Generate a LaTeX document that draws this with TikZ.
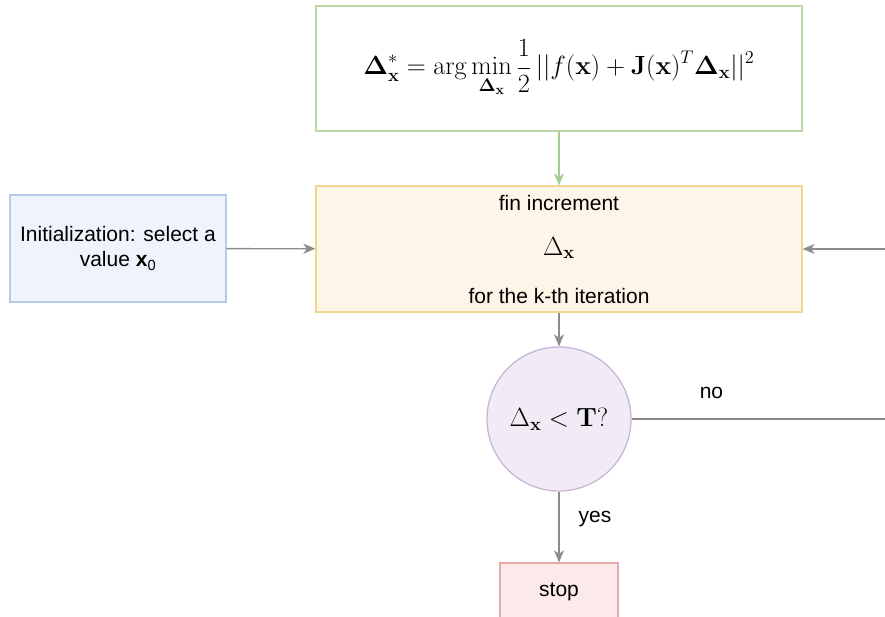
\documentclass[tikz,border=0pt]{standalone}
\usepackage{amsmath,bm,graphicx}
\usepackage[no-math]{fontspec}
\setmainfont{Liberation Sans}
\usetikzlibrary{arrows.meta}

\definecolor{eqstroke}{RGB}{185,215,168}
\definecolor{incfill}{RGB}{255,244,232}
\definecolor{incstroke}{RGB}{240,214,145}
\definecolor{initfill}{RGB}{238,243,252}
\definecolor{initstroke}{RGB}{182,201,230}
\definecolor{testfill}{RGB}{241,235,245}
\definecolor{teststroke}{RGB}{200,182,216}
\definecolor{stopfill}{RGB}{252,233,233}
\definecolor{stopstroke}{RGB}{232,170,168}
\definecolor{linkgray}{RGB}{140,140,140}
\definecolor{linkgreen}{RGB}{165,205,145}

% math drawn a little larger than the surrounding text
\newcommand{\bigmath}[1]{\scalebox{1.27}{$\displaystyle #1$}}

\tikzset{
  txt/.style={font=\fontsize{21}{25}\selectfont},
  box/.style={txt, rectangle, line width=1.3pt, inner sep=0pt, align=center},
  link/.style={line width=1.3pt, draw=linkgray},
  arr/.style={link, -{Stealth[length=12pt,width=10pt,inset=3.5pt]}},
  garr/.style={line width=1.3pt, draw=linkgreen, -{Stealth[length=12pt,width=10pt,inset=3.5pt]}},
}

\begin{document}
\begin{tikzpicture}[x=1pt,y=-1pt]
\useasboundingbox (0,0) rectangle (885,617);
\clip (0,0) rectangle (885,617);

% least-squares step
\node[box, draw=eqstroke, fill=white, minimum width=486pt, minimum height=125pt]
  (eq) at (559,68.5)
  {\bigmath{\bm{\Delta}_{\mathbf{x}}^{*} = \arg\min_{\bm{\Delta}_{\mathbf{x}}} \frac{1}{2}\,||f(\mathbf{x}) + \mathbf{J}(\mathbf{x})^{T}\bm{\Delta}_{\mathbf{x}}||^{2}}};

% increment of the current iteration
\node[box, draw=incstroke, fill=incfill, minimum width=486pt, minimum height=126pt]
  (inc) at (559,249)
  {fin increment\\[20pt]\bigmath{\Delta_{\mathbf{x}}}\\[23pt]for the k-th iteration};

% starting point
\node[box, draw=initstroke, fill=initfill, minimum width=216pt, minimum height=107pt]
  (init) at (118,248.5)
  {Initialization: select a\\value \textbf{x}\textsubscript{0}};

% convergence check
\node[box, circle, draw=teststroke, fill=testfill, minimum size=144pt]
  (test) at (559,419)
  {\bigmath{\Delta_{\mathbf{x}} < \mathbf{T?}}};

% end of the loop
\node[box, draw=stopstroke, fill=stopfill, minimum width=118pt, minimum height=58pt]
  (stop) at (559,592)
  {stop};

\coordinate (loopin) at (885,249);
\coordinate (loopout) at (885,419);

\draw[garr] (eq) -- (inc);
\draw[arr] (init) -- (inc);
\draw[arr] (loopin) -- (inc.east);
\draw[arr] (inc) -- (test);
\draw[link] (test.east) -- node[txt, pos=0.315, yshift=26pt] {no} (loopout);
\draw[arr] (test) -- node[txt, pos=0.39, xshift=36pt] {yes} (stop);
\end{tikzpicture}
\end{document}
